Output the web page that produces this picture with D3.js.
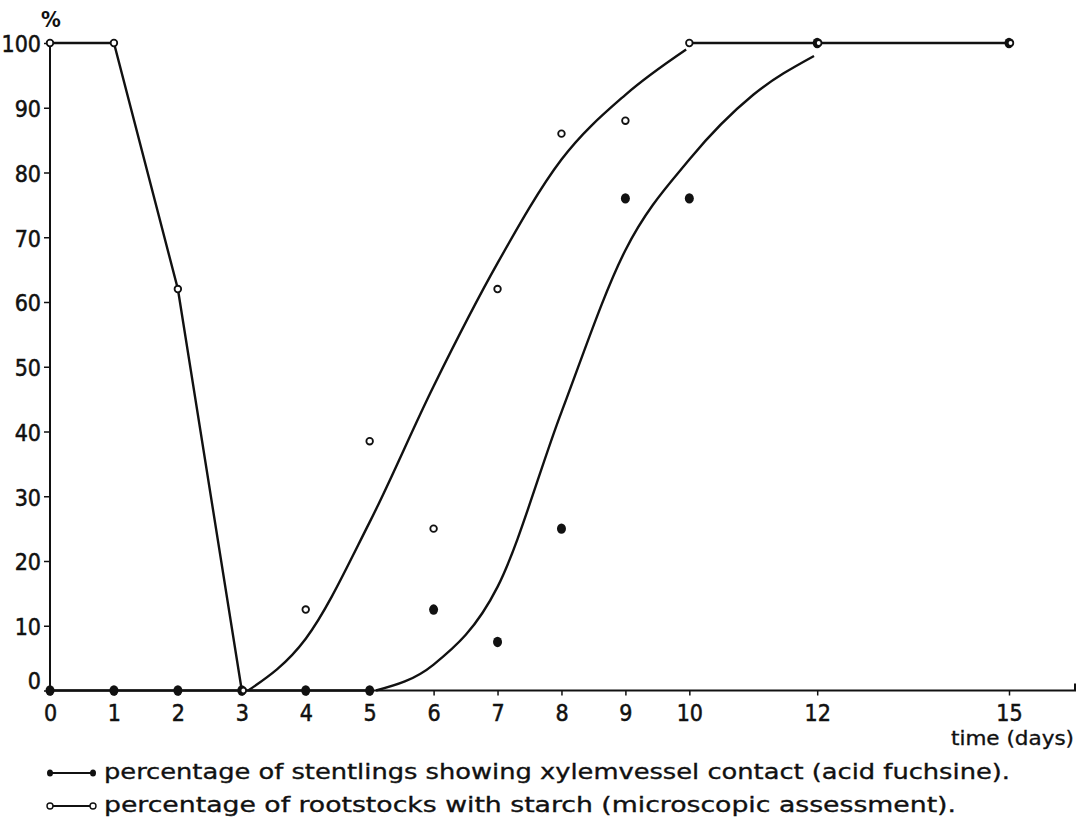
<!DOCTYPE html>
<html>
<head>
<meta charset="utf-8">
<script src="https://cdn.jsdelivr.net/npm/d3@7"></script>
<style>
  html, body { margin: 0; padding: 0; background: #fff; }
  svg { display: block; }
  text { font-family: "DejaVu Sans Condensed", "DejaVu Sans", sans-serif; fill: #111; }
</style>
</head>
<body>
<svg id="chart" width="1089" height="822"></svg>
<script>
// ---- data ----
const days = [0, 1, 2, 3, 4, 5, 6, 7, 8, 9, 10, 12, 15];
const starchPct = [100, 100, 62, 0, 12.5, 38.5, 25, 62, 86, 88, 100, 100, 100];
const xylemPct  = [0, 0, 0, 0, 0, 0, 12.5, 7.5, 25, 76, 76, 100, 100];

// hand-drawn fitted curves
const starchFitDays = [3.1, 4, 5, 6, 7, 8, 9, 9.95];
const starchFitPct  = [0, 8, 26, 47, 66, 82, 92, 99];
const xylemFitDays  = [5.1, 6, 7, 8, 9, 10, 11, 11.95];
const xylemFitPct   = [0, 4, 16, 43, 68, 82, 92, 98];

// straight segments of the figure
const starchLineDays = [0, 1, 2, 3];
const starchLinePct  = [100, 100, 62, 0];
const plateauDays = [10, 12, 15];
const plateauPct  = [100, 100, 100];
const baseDays = [0, 5];
const basePct  = [0, 0];

const xTicks = [0, 1, 2, 3, 4, 5, 6, 7, 8, 9, 10, 12, 15];
const yTicks = [0, 10, 20, 30, 40, 50, 60, 70, 80, 90, 100];
const legendLabels = [
  "percentage of stentlings showing  xylemvessel contact  (acid fuchsine).",
  "percentage of rootstocks with starch (microscopic assessment)."
];

// ---- drawing ----
const svg = d3.select("#chart");
const x = d3.scaleLinear().domain([0, 15]).range([50, 1009]);
const y = d3.scaleLinear().domain([0, 100]).range([690.5, 43]);
const ink = "#111";

// x axis
const xAxis = svg.append("g").attr("transform", `translate(0,${y(0)})`)
  .call(d3.axisBottom(x).tickValues(xTicks).tickSize(5).tickSizeOuter(0).tickFormat(d3.format("d")));
xAxis.select(".domain").remove();
xAxis.selectAll(".tick line").attr("stroke", ink).attr("stroke-width", 1.5);
xAxis.selectAll(".tick text").attr("font-size", 23).attr("y", 0).attr("dy", 0)
  .attr("transform", "translate(0,30)")
  .attr("stroke", ink).attr("stroke-width", 0.5);
svg.append("path")
  .attr("d", `M${x(0)},${y(0)} H1075 V${y(0) - 7}`)
  .attr("fill", "none").attr("stroke", ink).attr("stroke-width", 2);

// y axis
const yAxis = svg.append("g").attr("transform", `translate(${x(0)},0)`)
  .call(d3.axisLeft(y).tickValues(yTicks).tickSize(6).tickSizeOuter(0).tickFormat(d3.format("d")));
yAxis.select(".domain").remove();
yAxis.selectAll(".tick line").attr("stroke", ink).attr("stroke-width", 1.5);
yAxis.selectAll(".tick text").attr("font-size", 23).attr("x", -9).attr("dy", "0.38em")
  .attr("stroke", ink).attr("stroke-width", 0.5);
yAxis.selectAll(".tick").filter(d => d === 0).select("text").attr("dy", "-0.08em");
svg.append("line")
  .attr("x1", x(0)).attr("x2", x(0)).attr("y1", y(100)).attr("y2", y(0))
  .attr("stroke", ink).attr("stroke-width", 2);

svg.append("text").attr("x", 41).attr("y", 27).attr("font-size", 22).attr("font-weight", "bold").text("%");
svg.append("text").attr("x", 1074).attr("y", 745).attr("font-size", 19).attr("text-anchor", "end")
  .attr("textLength", 123).attr("lengthAdjust", "spacingAndGlyphs")
  .attr("stroke", ink).attr("stroke-width", 0.3).text("time (days)");

// lines
const straight = d3.line().x(d => x(d[0])).y(d => y(d[1]));
const smooth = d3.line().x(d => x(d[0])).y(d => y(d[1])).curve(d3.curveMonotoneX);
const drawLine = (ds, vs, gen) => svg.append("path")
  .datum(d3.zip(ds, vs)).attr("d", gen)
  .attr("fill", "none").attr("stroke", ink).attr("stroke-width", 2.4);

drawLine(starchLineDays, starchLinePct, straight);
drawLine(plateauDays, plateauPct, straight);
drawLine(baseDays, basePct, straight);
drawLine(starchFitDays, starchFitPct, smooth);
drawLine(xylemFitDays, xylemFitPct, smooth);

// markers
const pts = d3.zip(days, starchPct, xylemPct);
svg.append("g").selectAll("ellipse").data(pts).join("ellipse")
  .attr("cx", d => x(d[0])).attr("cy", d => y(d[2]))
  .attr("rx", 4.5).attr("ry", 5.2).attr("fill", ink);
svg.append("g").selectAll("circle").data(pts).join("circle")
  .attr("cx", d => x(d[0]) + (d[1] === d[2] ? 1.5 : 0)).attr("cy", d => y(d[1]))
  .attr("r", d => d[1] === d[2] ? 2.8 : 3.3)
  .attr("fill", "#fff").attr("stroke", ink).attr("stroke-width", 1.8);

// legend
const legend = svg.append("g");
legendLabels.forEach((label, i) => {
  const ly = 773 + i * 33;
  const g = legend.append("g");
  g.append("line").attr("x1", 52).attr("x2", 91).attr("y1", ly).attr("y2", ly)
    .attr("stroke", ink).attr("stroke-width", 2);
  if (i === 0) {
    g.selectAll("ellipse").data([50, 93]).join("ellipse")
      .attr("cx", d => d).attr("cy", ly).attr("rx", 3).attr("ry", 3.6).attr("fill", ink);
  } else {
    g.selectAll("circle").data([50, 93]).join("circle")
      .attr("cx", d => d).attr("cy", ly).attr("r", 3)
      .attr("fill", "#fff").attr("stroke", ink).attr("stroke-width", 1.4);
  }
  g.append("text").attr("x", 104).attr("y", ly + 6).attr("font-size", 21)
    .attr("stroke", ink).attr("stroke-width", 0.3)
    .attr("textLength", i === 0 ? 906 : 852).attr("lengthAdjust", "spacingAndGlyphs")
    .text(label);
});
</script>
</body>
</html>
